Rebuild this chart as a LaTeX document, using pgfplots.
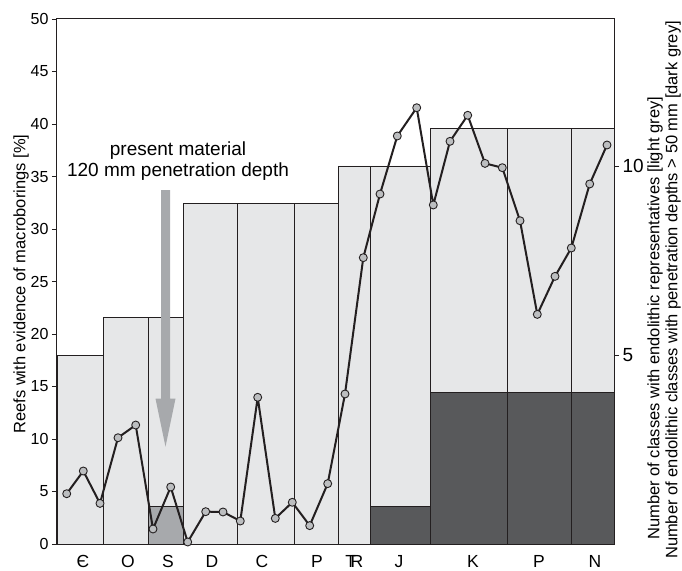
\documentclass[border=0pt]{standalone}
\usepackage{fontspec}
\setmainfont{Liberation Sans}
\usepackage{pgfplots}
\pgfplotsset{compat=1.18}

\definecolor{barlight}{HTML}{E6E7E8}
\definecolor{bardark}{HTML}{58595B}
\definecolor{barmid}{HTML}{A7A9AC}
\definecolor{markgrey}{HTML}{BCBEC0}
\definecolor{edge}{HTML}{231F20}

\begin{document}
\begin{tikzpicture}
\path[use as bounding box] (-57pt,-26pt) rectangle (625pt,544pt);

% bars: number of classes (right axis)
\begin{axis}[
    scale only axis, width=557pt, height=525pt,
    xmin=0, xmax=557, ymin=0, ymax=13.889,
    hide x axis,
    axis y line*=right,
    ytick={5,10},
    tick align=outside, major tick length=5pt,
    tick style={edge, line width=0.8pt},
    axis line style={edge, line width=1pt},
    yticklabel style={font=\fontsize{19}{22}\selectfont},
    /pgf/number format/assume math mode=true,
    clip=false,
]
\addplot[ybar interval, fill=barlight, draw=edge, line width=0.9pt]
  coordinates {(0,5) (46,6) (91,6) (126,9) (180,9) (237,9) (281,10)
               (313,10) (373,11) (450,11) (514,11) (557,11)};
\addplot[ybar interval, fill=barmid, draw=edge, line width=0.9pt]
  coordinates {(91,1) (126,1)};
\addplot[ybar interval, fill=bardark, draw=edge, line width=0.9pt]
  coordinates {(313,1) (373,4) (450,4) (514,4) (557,4)};
\node[rotate=90, inner sep=0pt, font=\fontsize{16.5}{19}\selectfont]
  at ([xshift=41pt]rel axis cs:1,0.43)
  {Number of classes with endolithic representatives [light grey]};
\node[rotate=90, inner sep=0pt, font=\fontsize{16.5}{19}\selectfont]
  at ([xshift=59pt]rel axis cs:1,0.484)
  {Number of endolithic classes with penetration depths > 50 mm [dark grey]};
\end{axis}

% line: reefs with macroborings (left axis)
\begin{axis}[
    scale only axis, width=557pt, height=525pt,
    xmin=0, xmax=557, ymin=0, ymax=50,
    ytick={0,5,...,50}, ytick pos=left,
    xtick={26,71,111,155,205,260,300,342,416,482,538},
    xticklabels={Є,O,S,D,C,P,{\makebox[0pt][l]{\hspace{-0.3em}T}R},J,K,P,N},
    x tick style={draw=none},
    tick align=outside, major tick length=5pt,
    tick style={edge, line width=0.8pt},
    axis line style={edge, line width=1pt},
    yticklabel style={font=\fontsize{16}{19}\selectfont},
    xticklabel style={font=\fontsize{17.5}{19}\selectfont, inner sep=0.5pt, yshift=-5.5pt},
    /pgf/number format/assume math mode=true,
    clip=false,
]
\fill[barmid] (axis cs:104,33.7) -- (axis cs:113,33.7) -- (axis cs:113,13.84)
  -- (axis cs:118.5,13.84) -- (axis cs:108.5,9.27) -- (axis cs:98.5,13.84)
  -- (axis cs:104,13.84) -- cycle;
\node[align=center, font=\fontsize{19}{21}\selectfont] at (axis cs:121,36.5)
  {present material\\120 mm penetration depth};
\addplot[edge, line width=2pt, line join=round, mark=*,
         mark options={fill=markgrey, draw=edge, line width=0.9pt, mark size=4pt}]
  coordinates {
    (9.7,4.79) (26.3,6.95) (43,3.87) (61,10.12) (78.7,11.33) (96,1.43)
    (113.7,5.43) (130.7,0.19) (148.7,3.08) (166,3.05) (183.3,2.19)
    (200.7,13.97) (218.3,2.44) (235.3,3.97) (252.7,1.75) (270.7,5.75)
    (288,14.29) (306.3,27.27) (323,33.33) (340.3,38.86) (359.7,41.55)
    (376.3,32.29) (393,38.35) (410.7,40.83) (428,36.25) (445.3,35.84)
    (463,30.79) (480.3,21.87) (498,25.49) (514.3,28.19) (532.7,34.29)
    (550,38.0)
  };
\node[rotate=90, font=\fontsize{16.5}{19}\selectfont]
  at ([xshift=-36pt]rel axis cs:0,0.495)
  {Reefs with evidence of macroborings [\%]};
\end{axis}
\end{tikzpicture}
\end{document}
